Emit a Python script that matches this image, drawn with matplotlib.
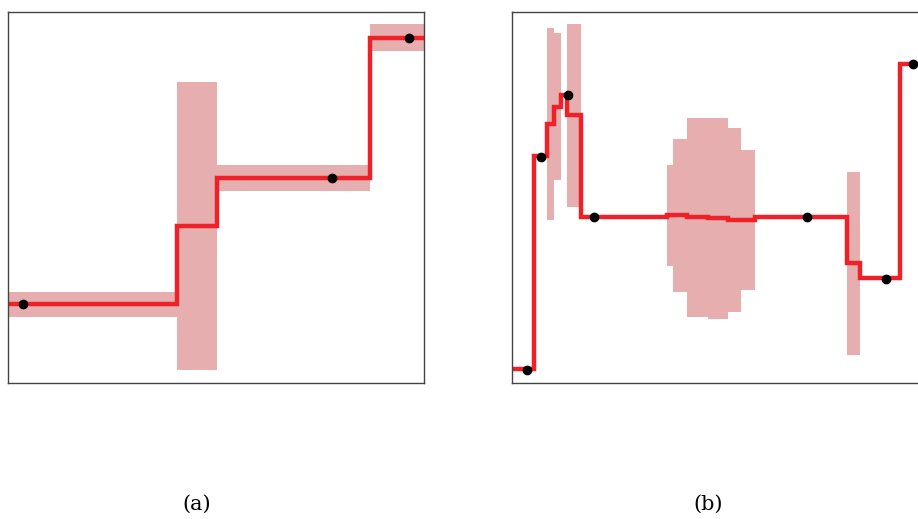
import numpy as np
import matplotlib
matplotlib.use("Agg")
import matplotlib.pyplot as plt

# panel (a): piecewise-constant posterior mean with +/- band
a_edges = [0.0, 40.55, 50.17, 87.0, 100.0]
a_mean = [21.2, 42.3, 55.3, 93.1]
a_band = [3.4, 38.9, 3.45, 3.6]
a_obs_x = [3.7, 77.8, 96.4]
a_obs_y = [21.2, 55.3, 93.1]

# panel (b)
b_edges = [0.0, 5.29, 8.34, 10.10, 11.78, 13.29, 16.47, 37.19, 38.77, 42.07,
           47.12, 51.92, 55.05, 58.41, 80.53, 83.77, 93.27, 100.0]
b_mean = [3.64, 61.32, 69.76, 74.47, 77.63, 72.16, 44.66, 45.15, 45.15, 44.61,
          44.34, 43.99, 43.94, 44.66, 32.26, 28.17, 85.90]
b_band = [0, 0, 25.82, 19.76, 0, 24.61, 0, 13.48, 20.67, 26.82,
          27.17, 24.85, 18.79, 0, 24.72, 0, 0]
b_obs_x = [3.68, 6.90, 13.39, 19.71, 70.84, 89.90, 96.32]
b_obs_y = [3.42, 61.05, 77.55, 44.66, 44.66, 28.14, 85.90]

LINE = "#ee2128"
BAND = "#e6aeae"

W, H = 918, 519
fig = plt.figure(figsize=(W / 100, H / 100), dpi=100)


def panel(left, label_x, edges, mean, band, ox, oy, label):
    ax = fig.add_axes([left / W, (H - 383) / H, 416 / W, 371 / H])
    mean = np.asarray(mean)
    band = np.asarray(band)
    ax.stairs(mean + band, edges, baseline=mean - band, fill=True,
              color=BAND, lw=0)
    ax.stairs(mean, edges, baseline=None, color=LINE, lw=3.2)
    ax.plot(ox, oy, "o", color="black", ms=6, zorder=5, clip_on=False)
    ax.set_xlim(0, 100)
    ax.set_ylim(0, 100)
    ax.set_xticks([])
    ax.set_yticks([])
    for s in ax.spines.values():
        s.set_color("#444444")
        s.set_linewidth(1.0)
    fig.text(label_x / W, (H - 504) / H, label, ha="center",
             va="center", fontsize=15, family="DejaVu Serif")
    return ax


panel(8, 196.7, a_edges, a_mean, a_band, a_obs_x, a_obs_y, "(a)")
panel(512, 708.3, b_edges, b_mean, b_band, b_obs_x, b_obs_y, "(b)")

fig.savefig("out.png", dpi=100)
